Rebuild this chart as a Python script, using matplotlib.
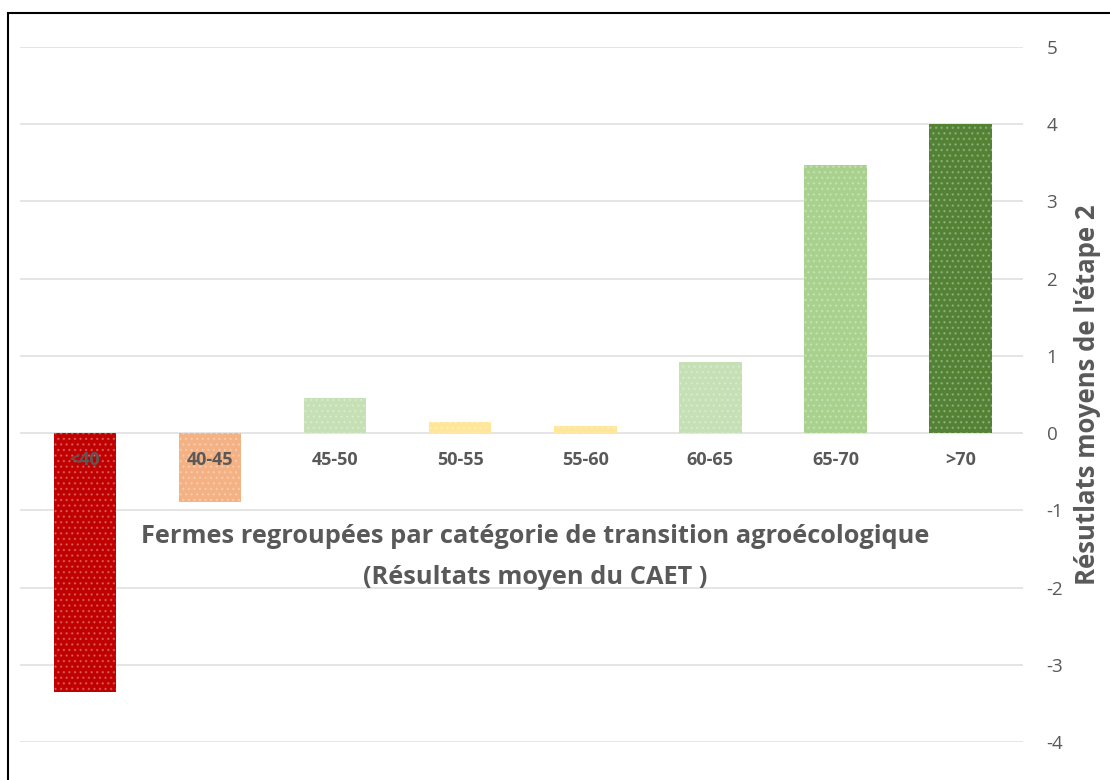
import numpy as np
import matplotlib
matplotlib.use("Agg")
import matplotlib.pyplot as plt
from matplotlib.patches import Rectangle

plt.rcParams['font.family'] = ['Open Sans', 'DejaVu Sans']
plt.rcParams['axes.unicode_minus'] = False

# data
categories = ['<40', '40-45', '45-50', '50-55', '55-60', '60-65', '65-70', '>70']
values = [-3.35, -0.89, 0.45, 0.14, 0.09, 0.92, 3.47, 4.0]
colors = ['#C00000', '#F4B183', '#C5E0B4', '#FFE699', '#FFE699',
          '#C5E0B4', '#A9D18E', '#548235']
y_ticks = [-4, -3, -2, -1, 0, 1, 2, 3, 4, 5]

W, H = 1110, 780
fig = plt.figure(figsize=(W / 100, H / 100), dpi=100)
ax = fig.add_axes([20 / W, 1 - 742 / H, (1023 - 20) / W, (742 - 47) / H])

x = np.arange(len(categories))
grey = '#595959'

# gridlines behind bars
ax.set_axisbelow(True)
ax.yaxis.grid(True, color='#E0E0E0', linewidth=1.2)

ax.bar(x, values, width=0.5, color=colors, linewidth=0, zorder=2)
# dotted texture on top
plt.rcParams['hatch.linewidth'] = 1.0
ax.bar(x, values, width=0.5, facecolor='none', edgecolor=(1, 1, 1, 0.25),
       hatch='...', linewidth=0, zorder=3)

# category labels just under the zero line
for xi, lab in zip(x, categories):
    ax.text(xi, -0.35, lab, ha='center', va='center', fontsize=13,
            fontweight='bold', color=grey, zorder=4)

ax.set_xlim(-0.52, 7.5)
ax.set_ylim(-4, 5)
ax.set_xticks([])
ax.yaxis.tick_right()
ax.set_yticks(y_ticks)
ax.tick_params(axis='y', length=0, pad=17, labelsize=13.5, labelcolor=grey)
for s in ax.spines.values():
    s.set_visible(False)

ax.yaxis.set_label_position('right')
ax.set_ylabel("Résutlats moyens de l'étape 2", fontsize=18.5, fontweight='bold',
              color=grey, labelpad=8)

ax.text(0.514, (742 - 557) / (742 - 47),
        "Fermes regroupées par catégorie de transition agroécologique\n(Résultats moyen du CAET )",
        transform=ax.transAxes, ha='center', va='center', fontsize=18.3,
        fontweight='bold', color=grey, linespacing=1.8)

# screenshot frame (top and left edges)
fig.patches.append(Rectangle((8 / W, -0.1), 1.2, 1 - 13 / H + 0.1,
                             transform=fig.transFigure, fill=False,
                             edgecolor='black', linewidth=1.5))

fig.savefig('out.png', dpi=100)
